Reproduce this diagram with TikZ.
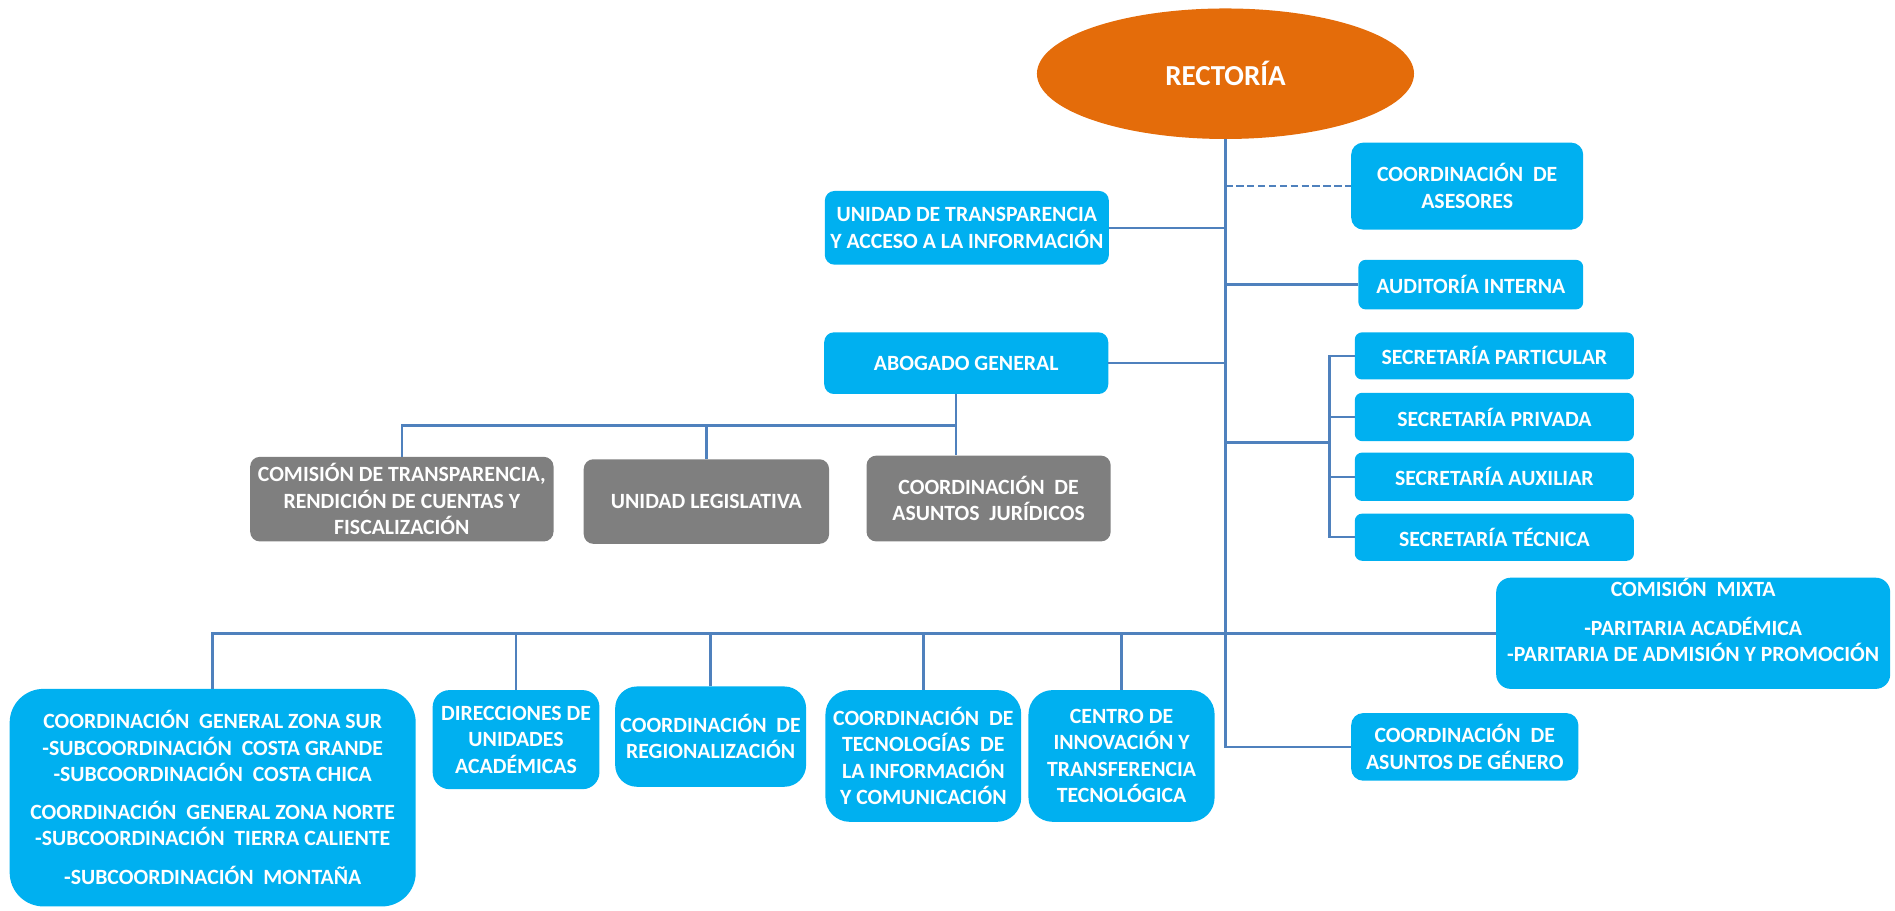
\documentclass[tikz,border=0pt]{standalone}
\usepackage{fontspec}
\setmainfont{Carlito}
\usetikzlibrary{shapes.geometric}
\definecolor{boxblue}{HTML}{00B0F0}
\definecolor{linecol}{HTML}{4F81BD}
\definecolor{boxgray}{HTML}{7F7F7F}
\definecolor{rectorange}{HTML}{E46C0A}
\tikzset{
  txt/.style={text=white, align=center, inner sep=0pt, font=\bfseries\fontsize{18}{22}\selectfont},
  bbox/.style={txt, fill=boxblue, rounded corners=#1},
  gbox/.style={txt, fill=boxgray, rounded corners=#1},
  conn/.style={draw=linecol, line width=2.1pt},
}
\begin{document}
\begin{tikzpicture}[x=1pt,y=-1pt]
\useasboundingbox (0,0) rectangle (1568,753);
% top
\node[ellipse, fill=rectorange, minimum width=312pt, minimum height=108pt, inner sep=0pt,
      text=white, font=\bfseries\fontsize{24}{26}\selectfont] (rect) at (1014,61) {RECTORÍA};
\node[bbox=10pt, minimum width=192pt, minimum height=72pt] (ases) at (1214,154) {COORDINACIÓN~~DE\\ASESORES};
\node[bbox=8pt, minimum width=235pt, minimum height=61pt] (unid) at (800,188.5) {UNIDAD DE TRANSPARENCIA\\Y ACCESO A LA INFORMACIÓN};
\node[bbox=6pt, minimum width=186pt, minimum height=41pt] (audi) at (1217,235.5) {AUDITORÍA INTERNA};
\node[bbox=8pt, minimum width=235pt, minimum height=51pt] (abog) at (799.5,300.5) {ABOGADO GENERAL};
% secretarias
\node[bbox=6pt, minimum width=231pt, minimum height=39pt] (sec1) at (1236.5,294.5) {SECRETARÍA PARTICULAR};
\node[bbox=6pt, minimum width=231pt, minimum height=40pt] (sec2) at (1236.5,345) {SECRETARÍA PRIVADA};
\node[bbox=6pt, minimum width=231pt, minimum height=40pt] (sec3) at (1236.5,394.5) {SECRETARÍA AUXILIAR};
\node[bbox=6pt, minimum width=231pt, minimum height=39pt] (sec4) at (1236.5,444.5) {SECRETARÍA TÉCNICA};
% gray
\node[gbox=8pt, minimum width=251pt, minimum height=70pt] (gray1) at (332.5,413) {COMISIÓN DE TRANSPARENCIA,\\RENDICIÓN DE CUENTAS Y\\FISCALIZACIÓN};
\node[gbox=8pt, minimum width=203pt, minimum height=70pt] (gray2) at (584.5,415) {UNIDAD LEGISLATIVA};
\node[gbox=8pt, minimum width=202pt, minimum height=71pt] (gray3) at (818,412.5) {COORDINACIÓN~~DE\\ASUNTOS~~JURÍDICOS};
% mixta
\node[bbox=12pt, minimum width=326pt, minimum height=92pt] (mixta) at (1401,524) {};
\node[txt] (mixtxt) at (1401,513) {COMISIÓN~~MIXTA\\[10pt]-PARITARIA ACADÉMICA\\-PARITARIA DE ADMISIÓN Y PROMOCIÓN};
% bottom
\node[bbox=28pt, minimum width=336pt, minimum height=180pt] (big) at (176,660) {COORDINACIÓN~~GENERAL ZONA SUR\\-SUBCOORDINACIÓN~~COSTA GRANDE\\-SUBCOORDINACIÓN~~COSTA CHICA\\[9pt]COORDINACIÓN~~GENERAL ZONA NORTE\\-SUBCOORDINACIÓN~~TIERRA CALIENTE\\[10pt]-SUBCOORDINACIÓN~~MONTAÑA};
\node[bbox=14pt, minimum width=138pt, minimum height=82pt] (dir) at (427,612) {DIRECCIONES DE\\UNIDADES\\ACADÉMICAS};
\node[bbox=18pt, minimum width=158pt, minimum height=83pt] (reg) at (588,609.5) {COORDINACIÓN~~DE\\REGIONALIZACIÓN};
\node[bbox=20pt, minimum width=162pt, minimum height=109pt] (tec) at (764,625.5) {COORDINACIÓN~~DE\\TECNOLOGÍAS~~DE\\LA INFORMACIÓN\\Y COMUNICACIÓN};
\node[bbox=20pt, minimum width=154pt, minimum height=109pt] (cen) at (928,625.5) {CENTRO DE\\INNOVACIÓN Y\\TRANSFERENCIA\\TECNOLÓGICA};
\node[bbox=10pt, minimum width=188pt, minimum height=56pt] (gen) at (1212,618) {COORDINACIÓN~~DE\\ASUNTOS DE GÉNERO};
% coordinates
\coordinate (abus) at (791,352);
\coordinate (secbr) at (1100,366);
% connectors
\draw[conn] (rect.south) |- (gen.west);
\draw[conn, dash pattern=on 6pt off 3pt] (rect.south |- ases.west) -- (ases.west);
\draw[conn] (unid.east) -- (rect.south |- unid.east);
\draw[conn] (rect.south |- audi.west) -- (audi.west);
\draw[conn] (abog.east) -- (rect.south |- abog.east);
\draw[conn] (rect.south |- secbr) -- (secbr);
\draw[conn] (sec1.west) -| (secbr) |- (sec4.west);
\draw[conn] (sec2.west) -- (sec2.west -| secbr);
\draw[conn] (sec3.west) -- (sec3.west -| secbr);
\draw[conn] (abog.south -| abus) -- (abus);
\draw[conn] (gray1.north) |- (abus) -- (gray3.north -| abus);
\draw[conn] (gray2.north) -- (gray2.north |- abus);
\draw[conn] (big.north) |- (mixta.west);
\draw[conn] (dir.north) -- (dir.north |- mixta.west);
\draw[conn] (reg.north) -- (reg.north |- mixta.west);
\draw[conn] (tec.north) -- (tec.north |- mixta.west);
\draw[conn] (cen.north) -- (cen.north |- mixta.west);
\end{tikzpicture}
\end{document}
